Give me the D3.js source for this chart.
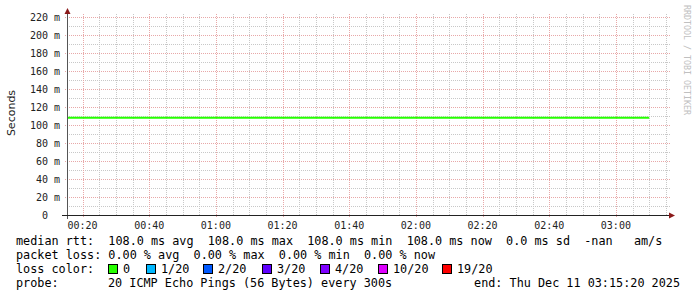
<!DOCTYPE html>
<html><head><meta charset="utf-8">
<script src="https://cdn.jsdelivr.net/npm/d3@7"></script>
<style>body{margin:0;background:#fff}svg{display:block}text{white-space:pre}</style>
</head><body>
<script>
// ---- data ----
const times = ["00:15","00:20","00:25","00:30","00:35","00:40","00:45","00:50","00:55",
  "01:00","01:05","01:10","01:15","01:20","01:25","01:30","01:35","01:40","01:45","01:50","01:55",
  "02:00","02:05","02:10","02:15","02:20","02:25","02:30","02:35","02:40","02:45","02:50","02:55",
  "03:00","03:05","03:10"];
const medianRtt = [0.108,0.108,0.108,0.108,0.108,0.108,0.108,0.108,0.108,
  0.108,0.108,0.108,0.108,0.108,0.108,0.108,0.108,0.108,0.108,0.108,0.108,
  0.108,0.108,0.108,0.108,0.108,0.108,0.108,0.108,0.108,0.108,0.108,0.108,
  0.108,0.108,0.108];
const yTicks = [0,0.02,0.04,0.06,0.08,0.10,0.12,0.14,0.16,0.18,0.20,0.22];
const xTickLabels = ["00:20","00:40","01:00","01:20","01:40","02:00","02:20","02:40","03:00"];
const startTime = "00:15:20", endTime = "03:15:20";
const lossLabels = ["0","1/20","2/20","3/20","4/20","10/20","19/20"];
const lossColors = ["#26ff00","#00b8ff","#0059ff","#5e00ff","#7e00ff","#dd00ff","#ff0000"];
const legendRows = [
  "median rtt:  108.0 ms avg  108.0 ms max  108.0 ms min  108.0 ms now  0.0 ms sd  -nan   am/s",
  "packet loss: 0.00 % avg  0.00 % max  0.00 % min  0.00 % now"
];
const probeText = "20 ICMP Echo Pings (56 Bytes) every 300s";
const endText = "end: Thu Dec 11 03:15:20 2025";

// ---- helpers ----
const day = "2025-12-11T";
const parse = s => new Date(day + (s.length === 5 ? s + ":00" : s));
const W = 697, H = 297;
const svg = d3.select("body").append("svg").attr("width", W).attr("height", H);
const L = 67, R = 668, T = 17, B = 215;
const x = d3.scaleTime().domain([parse(startTime), parse(endTime)]).range([L, L + 600]);
const y = d3.scaleLinear().domain([0, 0.22]).range([B, T]);
const mono = "DejaVu Sans Mono";

// grid
const g = svg.append("g");
const minorX = d3.timeMinute.every(5).range(parse(startTime), parse(endTime));
minorX.forEach(t => {
  const major = t.getMinutes() % 20 === 0;
  if (major) return;
  g.append("line").attr("x1", Math.round(x(t)) + 0.5).attr("x2", Math.round(x(t)) + 0.5)
    .attr("y1", T - 3).attr("y2", B).attr("stroke", "#c8c8c8").attr("stroke-dasharray", "1,1");
});
d3.range(0, 0.2201, 0.01).forEach(v => {
  if (Math.round(v * 1000) % 20 === 0) return;
  g.append("line").attr("x1", L).attr("x2", R + 3).attr("y1", Math.round(y(v)) + 0.5).attr("y2", Math.round(y(v)) + 0.5)
    .attr("stroke", "#c8c8c8").attr("stroke-dasharray", "1,1");
});
xTickLabels.forEach(s => {
  const xx = Math.round(x(parse(s))) + 0.5;
  g.append("line").attr("x1", xx).attr("x2", xx).attr("y1", T - 3).attr("y2", B + 2)
    .attr("stroke", "#e8a8a8").attr("stroke-dasharray", "1,1");
});
yTicks.forEach(v => {
  if (v === 0) return;
  const yy = Math.round(y(v)) + 0.5;
  g.append("line").attr("x1", L - 2).attr("x2", R + 3).attr("y1", yy).attr("y2", yy)
    .attr("stroke", "#e8a8a8").attr("stroke-dasharray", "1,1");
});

// data line
const data = times.map((t, i) => ({ t: parse(t), v: medianRtt[i] }));
svg.append("clipPath").attr("id", "clip").append("rect").attr("x", L).attr("y", T - 5).attr("width", 601).attr("height", B - T + 5);
svg.append("path").datum(data).attr("clip-path", "url(#clip)")
  .attr("d", d3.line().x(d => x(d.t)).y(d => y(d.v)).curve(d3.curveStepBefore))
  .attr("fill", "none").attr("stroke", lossColors[0]).attr("stroke-width", 2);

// axes
svg.append("line").attr("x1", L + 0.5).attr("x2", L + 0.5).attr("y1", 12).attr("y2", B + 4).attr("stroke", "#555");
svg.append("line").attr("x1", L - 5).attr("x2", 670).attr("y1", B + 0.5).attr("y2", B + 0.5).attr("stroke", "#222");
svg.append("path").attr("d", `M${L - 2.5},14 L${L + 0.5},8 L${L + 3.5},14 Z`).attr("fill", "#8b1a1a");
svg.append("path").attr("d", `M669,${B - 2.5} L675,${B + 0.5} L669,${B + 3.5} Z`).attr("fill", "#8b1a1a");

// y labels
yTicks.forEach(v => {
  const yy = y(v);
  const n = Math.round(v * 1000);
  svg.append("text").attr("x", 48).attr("y", yy).attr("dy", "0.35em").attr("text-anchor", "end")
    .attr("font-family", mono).attr("font-size", 10).attr("fill", "#222").text(n);
  if (n !== 0) svg.append("text").attr("x", 54).attr("y", yy).attr("dy", "0.35em")
    .attr("font-family", mono).attr("font-size", 10).attr("fill", "#222").text("m");
});
// x labels
xTickLabels.forEach(s => {
  svg.append("text").attr("x", x(parse(s))).attr("y", 225).attr("dy", "0.35em").attr("text-anchor", "middle")
    .attr("font-family", mono).attr("font-size", 10).attr("fill", "#222").text(s);
});

// titles
svg.append("text").attr("transform", "translate(11,113) rotate(-90)").attr("text-anchor", "middle")
  .attr("dy", "0.35em").attr("font-family", "DejaVu Sans").attr("font-size", 11).attr("fill", "#222").text("Seconds");
svg.append("text").attr("transform", "translate(687,5) rotate(90)").attr("text-anchor", "start")
  .attr("dy", "0.35em").attr("font-family", mono).attr("font-size", 8.3).attr("fill", "#c0c0c0").text("RRDTOOL / TOBI OETIKER");

// legend
const lf = 11.8, cw = 7.12;
legendRows.forEach((s, i) => {
  svg.append("text").attr("x", 16).attr("y", 241 + i * 14).attr("dy", "0.35em")
    .attr("font-family", mono).attr("font-size", lf).attr("fill", "#000").text(s);
});
svg.append("text").attr("x", 16).attr("y", 269).attr("dy", "0.35em")
  .attr("font-family", mono).attr("font-size", lf).attr("fill", "#000").text("loss color:");
const boxX = [108, 146, 203, 262, 320, 378, 442];
lossLabels.forEach((l, i) => {
  svg.append("rect").attr("x", boxX[i] + 0.5).attr("y", 264.5).attr("width", 9).attr("height", 9)
    .attr("fill", lossColors[i]).attr("stroke", "#000");
  svg.append("text").attr("x", boxX[i] + 15).attr("y", 269).attr("dy", "0.35em")
    .attr("font-family", mono).attr("font-size", lf).attr("fill", "#000").text(l);
});
svg.append("text").attr("x", 16).attr("y", 283).attr("dy", "0.35em")
  .attr("font-family", mono).attr("font-size", lf).attr("fill", "#000").text("probe:");
svg.append("text").attr("x", 108).attr("y", 283).attr("dy", "0.35em")
  .attr("font-family", mono).attr("font-size", lf).attr("fill", "#000").text(probeText);
svg.append("text").attr("x", 680).attr("y", 283).attr("dy", "0.35em").attr("text-anchor", "end")
  .attr("font-family", mono).attr("font-size", lf).attr("fill", "#000").text(endText);
</script>
</body></html>
